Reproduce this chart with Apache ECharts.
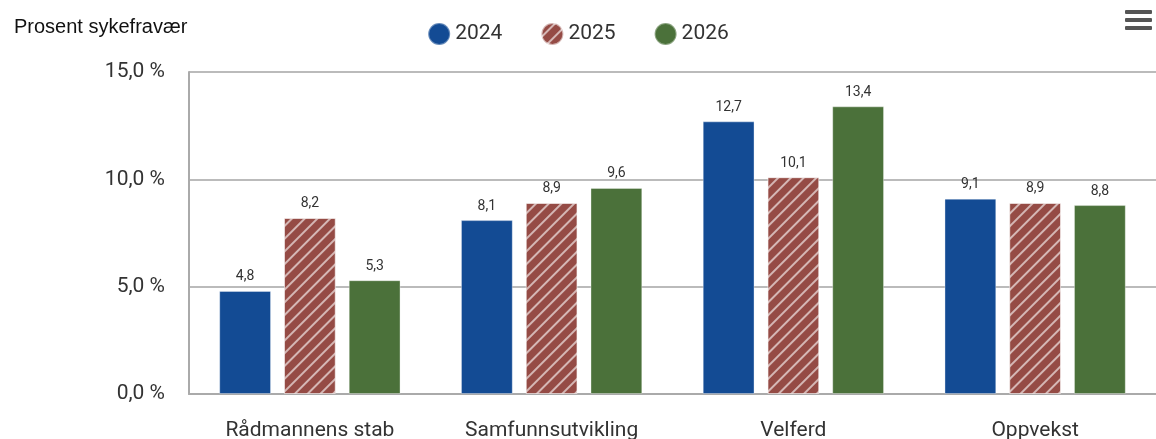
<!DOCTYPE html>
<html>
<head>
<meta charset="utf-8">
<script src="https://cdn.jsdelivr.net/npm/echarts@6/dist/echarts.min.js"></script>
<style>
  html, body { margin: 0; padding: 0; background: #fff; }
  #chart { width: 1156px; height: 439px; }
</style>
</head>
<body>
<div id="chart"></div>
<script>
var categories = ['Rådmannens stab', 'Samfunnsutvikling', 'Velferd', 'Oppvekst'];
var years = ['2024', '2025', '2026'];
var values2024 = [4.8, 8.1, 12.7, 9.1];
var values2025 = [8.2, 8.9, 10.1, 8.9];
var values2026 = [5.3, 9.6, 13.4, 8.8];

var colors = ['#134b94', '#954b45', '#4b713a'];
var stripe = {
    symbol: 'rect',
    symbolSize: 1,
    dashArrayX: [1, 0],
    dashArrayY: [2, 7],
    rotation: -Math.PI / 4,
    color: 'rgba(255,255,255,0.6)'
};

function comma(v) {
    return v.toFixed(1).replace('.', ',');
}

var chart = echarts.init(document.getElementById('chart'));

function makeSeries(name, data, idx) {
    var s = {
        name: name,
        type: 'bar',
        data: data,
        barGap: '25%',
        barCategoryGap: '25%',
        itemStyle: {
            color: colors[idx],
            borderColor: 'rgba(255,255,255,0.35)',
            borderWidth: 1
        },
        label: {
            show: true,
            position: 'top',
            distance: 7,
            color: '#333',
            fontSize: 14,
            fontFamily: 'Roboto',
            formatter: function (p) { return comma(p.value); }
        }
    };
    if (idx === 1) s.itemStyle.decal = stripe;
    return s;
}

var option = {
    animation: false,
    color: colors,
    title: {
        text: 'Prosent sykefravær',
        left: 9,
        top: 12,
        textStyle: { fontSize: 20, fontWeight: 'normal', color: '#111', fontFamily: 'Liberation Sans' }
    },
    legend: {
        top: 17,
        left: 'center',
        icon: 'circle',
        itemWidth: 22,
        itemHeight: 22,
        itemGap: 38,
        textStyle: { fontSize: 21, color: '#333', fontFamily: 'Roboto' },
        data: years
    },
    graphic: [
        { type: 'rect', right: 4, top: 10, shape: { width: 27, height: 4, r: 1 }, style: { fill: '#555' } },
        { type: 'rect', right: 4, top: 18, shape: { width: 27, height: 4, r: 1 }, style: { fill: '#555' } },
        { type: 'rect', right: 4, top: 26, shape: { width: 27, height: 4, r: 1 }, style: { fill: '#555' } }
    ],
    grid: { left: 189, right: 0, top: 72, bottom: 45, outerBoundsMode: 'none', containLabel: false },
    xAxis: {
        type: 'category',
        data: categories,
        axisTick: { show: false },
        axisLine: { lineStyle: { color: '#aaa', width: 2 } },
        axisLabel: { fontSize: 21, color: '#333', margin: 26, fontFamily: 'Roboto' }
    },
    yAxis: {
        type: 'value',
        min: 0,
        max: 15,
        interval: 5,
        axisLine: { show: true, lineStyle: { color: '#aaa', width: 2 } },
        splitLine: { lineStyle: { color: '#bbb', width: 2 } },
        axisLabel: {
            fontSize: 21,
            color: '#333',
            margin: 24,
            fontFamily: 'Roboto',
            formatter: function (v) { return comma(v) + ' %'; }
        }
    },
    series: [
        makeSeries(years[0], values2024, 0),
        makeSeries(years[1], values2025, 1),
        makeSeries(years[2], values2026, 2)
    ]
};

chart.setOption(option);
window.addEventListener('resize', function () { chart.resize(); });
</script>
</body>
</html>
